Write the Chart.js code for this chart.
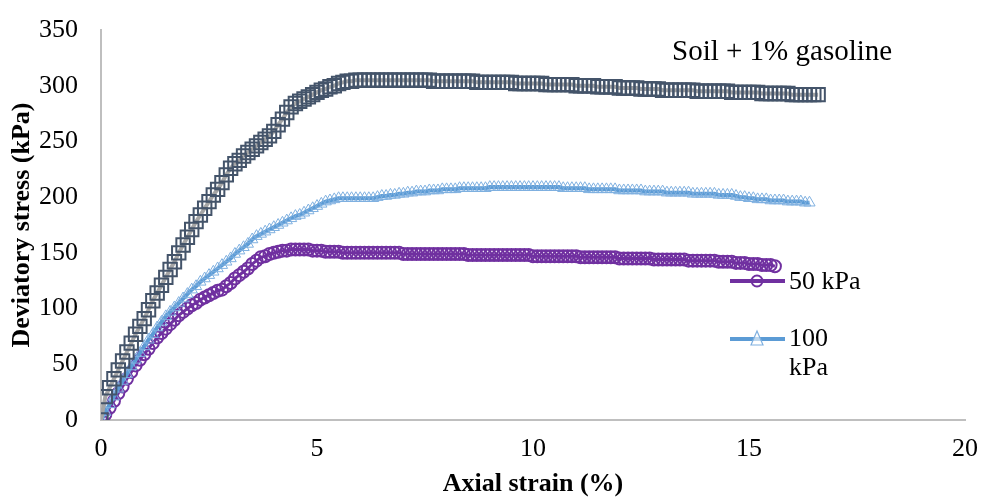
<!DOCTYPE html>
<html>
<head>
<meta charset="utf-8">
<script src="https://cdn.jsdelivr.net/npm/chart.js@4/dist/chart.umd.min.js"></script>
<style>
  html, body { margin: 0; padding: 0; background: #fff; }
  #wrap { width: 982px; height: 497px; position: relative; }
</style>
</head>
<body>
<div id="wrap"><canvas id="myChart" width="982" height="497"></canvas></div>
<script>
// axial strain (%) readings, every 0.1 %
var strain = [
  0.0,0.1,0.2,0.3,0.4,0.5,0.6,0.7,0.8,0.9,
  1.0,1.1,1.2,1.3,1.4,1.5,1.6,1.7,1.8,1.9,
  2.0,2.1,2.2,2.3,2.4,2.5,2.6,2.7,2.8,2.9,
  3.0,3.1,3.2,3.3,3.4,3.5,3.6,3.7,3.8,3.9,
  4.0,4.1,4.2,4.3,4.4,4.5,4.6,4.7,4.8,4.9,
  5.0,5.1,5.2,5.3,5.4,5.5,5.6,5.7,5.8,5.9,
  6.0,6.1,6.2,6.3,6.4,6.5,6.6,6.7,6.8,6.9,
  7.0,7.1,7.2,7.3,7.4,7.5,7.6,7.7,7.8,7.9,
  8.0,8.1,8.2,8.3,8.4,8.5,8.6,8.7,8.8,8.9,
  9.0,9.1,9.2,9.3,9.4,9.5,9.6,9.7,9.8,9.9,
  10.0,10.1,10.2,10.3,10.4,10.5,10.6,10.7,10.8,10.9,
  11.0,11.1,11.2,11.3,11.4,11.5,11.6,11.7,11.8,11.9,
  12.0,12.1,12.2,12.3,12.4,12.5,12.6,12.7,12.8,12.9,
  13.0,13.1,13.2,13.3,13.4,13.5,13.6,13.7,13.8,13.9,
  14.0,14.1,14.2,14.3,14.4,14.5,14.6,14.7,14.8,14.9,
  15.0,15.1,15.2,15.3,15.4,15.5,15.6,15.7,15.8,15.9,
  16.0,16.1,16.2,16.3,16.4,16.5,16.6];

// deviatory stress (kPa), confining 50 kPa
var stress50 = [
  0,5,11,17,24,30,37,43,49,54,
  59,64,69,74,78,82,86,90,94,97,
  100,103,105,108,110,112,114,116,117,120,
  123,127,130,133,136,140,143,146,147,149,
  150,151,152,152,153,153,153,153,153,152,
  152,152,151,151,151,151,150,150,150,150,
  150,150,150,150,150,150,150,150,150,150,
  149,149,149,149,149,149,149,149,149,149,
  149,149,149,149,149,148,148,148,148,148,
  148,148,148,148,148,148,148,148,148,148,
  147,147,147,147,147,147,147,147,147,147,
  147,146,146,146,146,146,146,146,146,146,
  145,145,145,145,145,145,145,145,144,144,
  144,144,144,144,144,144,143,143,143,143,
  143,143,143,142,142,142,142,141,141,141,
  140,140,140,139,139,139,138];

// deviatory stress (kPa), confining 100 kPa
var stress100 = [
  0,7,14,21,28,35,41,48,54,60,
  66,72,77,83,88,93,97,101,105,109,
  113,117,120,124,127,130,133,136,139,142,
  145,149,152,155,158,162,165,167,169,171,
  173,175,177,179,181,183,184,186,188,190,
  192,194,196,197,198,199,199,199,199,199,
  199,199,199,199,200,201,201,202,202,203,
  203,204,204,205,205,205,206,206,206,207,
  207,207,207,208,208,208,208,208,208,208,
  209,209,209,209,209,209,209,209,209,209,
  209,209,209,209,209,209,209,208,208,208,
  208,208,208,207,207,207,207,207,207,207,
  206,206,206,206,206,206,205,205,205,205,
  205,204,204,204,204,204,204,203,203,203,
  203,203,203,202,202,202,202,201,200,200,
  199,199,198,198,198,197,197,197,197,196,
  196,196,196,195,195];

// deviatory stress (kPa), third test (squares, not in legend)
var stress300 = [
  0,21,29,37,45,53,61,69,77,84,
  91,99,107,114,121,128,135,142,150,157,
  164,171,178,184,190,196,202,207,213,220,
  226,230,233,237,240,243,246,249,252,255,
  259,265,270,276,281,284,286,288,290,292,
  294,296,297,299,300,302,303,304,304,305,
  305,305,305,305,305,305,305,305,305,305,
  305,305,305,305,305,305,305,304,304,304,
  304,304,304,304,304,304,304,303,303,303,
  303,303,303,303,303,303,302,302,302,302,
  302,302,302,301,301,301,301,301,301,301,
  300,300,300,300,300,299,299,299,299,299,
  298,298,298,298,298,297,297,297,297,297,
  296,296,296,296,296,296,296,296,295,295,
  295,295,295,295,295,295,294,294,294,294,
  294,294,294,293,293,293,293,293,293,293,
  292,292,292,292,292,292,292];

var legendLabels = ['50 kPa', '100 kPa'];
var chartTitle = 'Soil + 1% gasoline';

var SERIF = '"Liberation Serif", "Times New Roman", serif';

function pairs(ys) {
  return ys.map(function(y, i) { return { x: strain[i], y: y }; });
}

var overlay = {
  id: 'overlay',
  afterDraw: function(chart) {
    var ctx = chart.ctx;
    ctx.save();
    ctx.fillStyle = '#000';
    ctx.font = '29px ' + SERIF;
    ctx.textBaseline = 'middle';
    ctx.textAlign = 'left';
    ctx.fillText(chartTitle, 672, 52);

    // legend, 50 kPa
    ctx.lineWidth = 4;
    ctx.strokeStyle = '#7030A0';
    ctx.beginPath(); ctx.moveTo(730, 281); ctx.lineTo(785, 281); ctx.stroke();
    ctx.lineWidth = 2;
    ctx.beginPath(); ctx.arc(757, 281, 5.5, 0, Math.PI * 2); ctx.stroke();
    ctx.font = '26px ' + SERIF;
    ctx.fillText(legendLabels[0], 789, 282);

    // legend, 100 kPa
    ctx.lineWidth = 4;
    ctx.strokeStyle = '#5B9BD5';
    ctx.beginPath(); ctx.moveTo(730, 339); ctx.lineTo(785, 339); ctx.stroke();
    ctx.lineWidth = 1.2;
    ctx.strokeStyle = '#7FB0E0';
    ctx.fillStyle = 'rgba(255,255,255,0.6)';
    ctx.beginPath(); ctx.moveTo(757, 331); ctx.lineTo(763, 345); ctx.lineTo(751, 345); ctx.closePath();
    ctx.fill(); ctx.stroke();
    ctx.fillStyle = '#000';
    var parts = legendLabels[1].split(' ');
    ctx.fillText(parts[0], 789, 339);
    ctx.fillText(parts[1], 789, 368);
    ctx.restore();
  }
};

var ctx = document.getElementById('myChart');
var myChart = new Chart(ctx, {
  type: 'line',
  data: {
    datasets: [
      {
        label: legendLabels[0],
        data: pairs(stress50),
        borderColor: '#7030A0',
        borderWidth: 3,
        pointStyle: 'circle',
        pointRadius: 6,
        pointBorderWidth: 2,
        pointBorderColor: '#7030A0',
        pointBackgroundColor: 'rgba(0,0,0,0)',
        order: 3
      },
      {
        label: legendLabels[1],
        data: pairs(stress100),
        borderColor: '#5B9BD5',
        borderWidth: 4,
        pointStyle: 'triangle',
        pointRadius: 6.5,
        pointBorderWidth: 1,
        pointBorderColor: '#7FB0E0',
        pointBackgroundColor: 'rgba(0,0,0,0)',
        order: 2
      },
      {
        label: '300 kPa',
        data: pairs(stress300),
        borderColor: '#A5A5A5',
        borderWidth: 4,
        pointStyle: 'rect',
        pointRadius: 9.5,
        pointBorderWidth: 2,
        pointBorderColor: '#44546A',
        pointBackgroundColor: 'rgba(0,0,0,0)',
        order: 1
      }
    ]
  },
  options: {
    responsive: false,
    animation: false,
    layout: { padding: { top: 30, right: 17, left: 0, bottom: 0 } },
    plugins: {
      legend: { display: false },
      tooltip: { enabled: false }
    },
    scales: {
      x: {
        type: 'linear',
        min: 0,
        max: 20,
        grid: { display: false, drawTicks: false },
        border: { display: true, color: '#BFBFBF', width: 2 },
        ticks: { stepSize: 5, padding: 14, color: '#000', font: { family: SERIF, size: 26 } },
        title: {
          display: true,
          text: 'Axial strain (%)',
          color: '#000',
          padding: { top: 0, bottom: 0 },
          font: { family: SERIF, size: 26, weight: 'bold', lineHeight: 1.0 }
        },
        afterFit: function(scale) {
          scale.height = 77;
          scale.paddingLeft = 0;
          scale.paddingRight = 0;
        }
      },
      y: {
        min: 0,
        max: 350,
        grid: { display: false, drawTicks: false },
        border: { display: true, color: '#BFBFBF', width: 2 },
        ticks: { stepSize: 50, padding: 23, color: '#000', font: { family: SERIF, size: 26 } },
        title: {
          display: true,
          text: 'Deviatory stress (kPa)',
          color: '#000',
          padding: { top: 9, bottom: 0 },
          font: { family: SERIF, size: 26, weight: 'bold', lineHeight: 1.0 }
        },
        afterFit: function(scale) {
          scale.width = 101;
          scale.paddingTop = 0;
          scale.paddingBottom = 0;
        }
      }
    }
  },
  plugins: [overlay]
});
</script>
</body>
</html>
